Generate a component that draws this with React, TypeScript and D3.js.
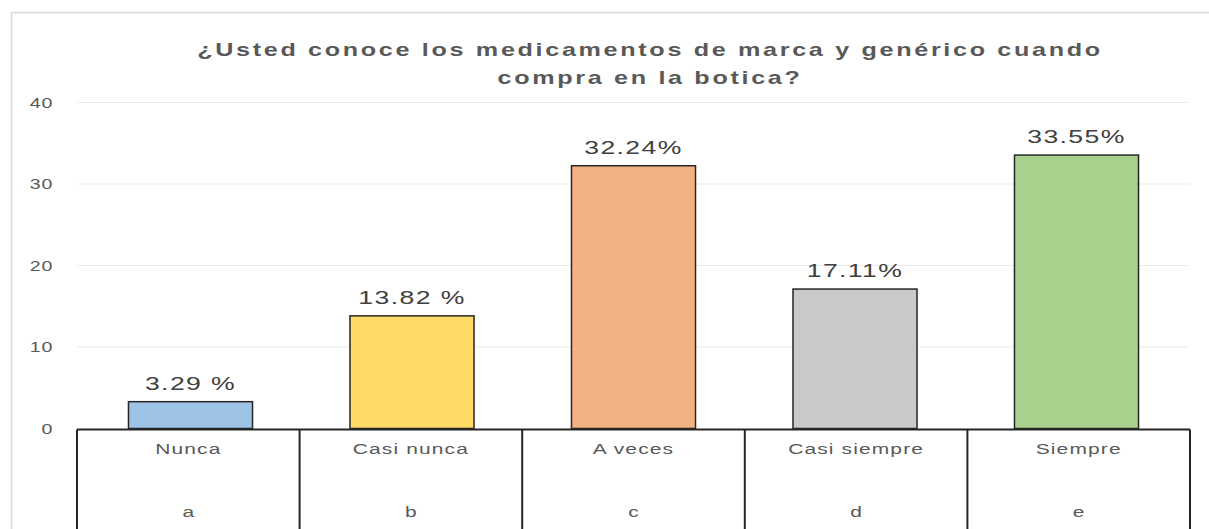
import React from "react";
import * as d3 from "d3";

const categories = ["Nunca", "Casi nunca", "A veces", "Casi siempre", "Siempre"];
const letters = ["a", "b", "c", "d", "e"];
const values = [3.29, 13.82, 32.24, 17.11, 33.55];
const valueLabels = ["3.29 %", "13.82 %", "32.24%", "17.11%", "33.55%"];
const colors = ["#9DC3E6", "#FFD966", "#F4B183", "#C9C9C9", "#A9D18E"];
const yTicks = [0, 10, 20, 30, 40];
const titleLines = [
  "¿Usted conoce los medicamentos de marca y genérico cuando",
  "compra en la botica?",
];

const W = 1209;
const H = 529;
const SX = 1.4;

export default function App() {
  const y = d3.scaleLinear().domain([0, 40]).range([428.5, 102.5]);
  const xBar = d3.scaleBand<string>().domain(categories).range([79.75, 1187.25]).padding(0);
  const xTab = d3.scaleBand<string>().domain(categories).range([77, 1190]).padding(0);
  const barW = xBar.bandwidth() * 0.56;
  const tableTop = 429.5;

  const stretched = (x: number, yy: number) => `translate(${x},${yy}) scale(${SX},1)`;

  return (
    <svg
      width={W}
      height={H}
      style={{ position: "absolute", left: 0, top: 0, background: "#fff" }}
      fontFamily="'Liberation Sans', Arial, sans-serif"
    >
      <rect x={0} y={0} width={W} height={H} fill="#fff" />
      {/* outer chart border */}
      <line x1={11} x2={W} y1={12.5} y2={12.5} stroke="#D9D9D9" strokeWidth={1.5} />
      <line x1={11.5} x2={11.5} y1={12} y2={H} stroke="#D9D9D9" strokeWidth={1.5} />

      {/* title */}
      {titleLines.map((t, i) => (
        <text
          key={i}
          transform={stretched(650, 56 + i * 28)}
          textAnchor="middle"
          fontSize={18}
          fontWeight="bold"
          letterSpacing={1.9}
          fill="#595959"
        >
          {t}
        </text>
      ))}

      {/* gridlines + y ticks */}
      {yTicks.map((t) => (
        <g key={t}>
          {t > 0 && (
            <line x1={77} x2={1189} y1={y(t)} y2={y(t)} stroke="#EBEBEB" strokeWidth={1} />
          )}
          <text
            transform={stretched(53, y(t) + 5)}
            textAnchor="end"
            fontSize={14}
            letterSpacing={0.5}
            fill="#595959"
          >
            {t}
          </text>
        </g>
      ))}

      {/* bars */}
      {categories.map((c, i) => {
        const cx = (xBar(c) as number) + xBar.bandwidth() / 2;
        return (
          <g key={c}>
            <rect
              x={cx - barW / 2}
              y={y(values[i])}
              width={barW}
              height={y(0) - y(values[i])}
              fill={colors[i]}
              stroke="#262626"
              strokeWidth={1.5}
            />
            <text
              transform={stretched(cx, y(values[i]) - 12)}
              textAnchor="middle"
              fontSize={19}
              letterSpacing={1}
              fill="#404040"
            >
              {valueLabels[i]}
            </text>
          </g>
        );
      })}

      {/* category table */}
      <line x1={xTab.range()[0]} x2={xTab.range()[1]} y1={tableTop} y2={tableTop} stroke="#262626" strokeWidth={2} />
      {[...categories.map((c) => xTab(c) as number), xTab.range()[1]].map((bx, i) => (
        <line key={i} x1={bx} x2={bx} y1={tableTop} y2={H} stroke="#262626" strokeWidth={2} />
      ))}
      {categories.map((c, i) => {
        const cx = (xTab(c) as number) + xTab.bandwidth() / 2;
        return (
          <g key={c}>
            <text
              transform={stretched(cx, 454)}
              textAnchor="middle"
              fontSize={15}
              letterSpacing={0.8}
              fill="#595959"
            >
              {c}
            </text>
            <text
              transform={stretched(cx, 517)}
              textAnchor="middle"
              fontSize={15}
              fill="#595959"
            >
              {letters[i]}
            </text>
          </g>
        );
      })}
    </svg>
  );
}
